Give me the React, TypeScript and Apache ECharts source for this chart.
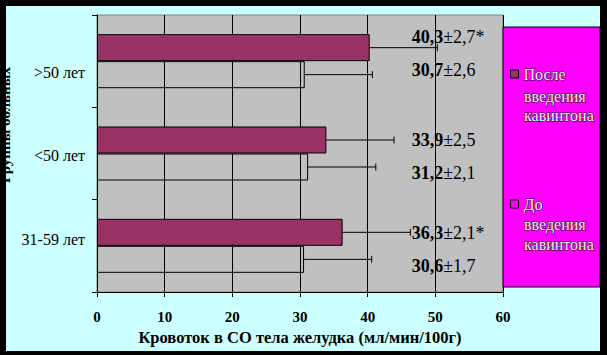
import React, { useEffect, useRef } from "react";
import * as echarts from "echarts";

// categories bottom-to-top (ECharts category y axis starts at the bottom)
const categories = ["31-59 лет", "<50 лет", ">50 лет"];
const seriesNames = ["После введения кавинтона", "До введения кавинтона"];
const afterMean = [36.3, 33.9, 40.3];
const afterSd = [2.1, 2.5, 2.7];
const afterMark = ["*", "", "*"];
const beforeMean = [30.6, 31.2, 30.7];
const beforeSd = [1.7, 2.1, 2.6];
const beforeMark = ["", "", ""];
const afterErrorBar = [10, 10, 10];
const beforeErrorBar = [10, 10, 10];
const xMin = 0;
const xMax = 60;
const xStep = 10;
const xAxisTitle = "Кровоток в СО тела желудка (мл/мин/100г)";
const yAxisTitle = "Группы больных";

const FONT = '"Liberation Serif", "Times New Roman", serif';
const CAT_GAP = 0.415;
const LABEL_AT = 46.5;
// small vertical nudges of the value labels (px), layout only
const afterLabelNudge = [1, 0.5, -11];
const beforeLabelNudge = [7, 5.5, -4.5];
const catLabelNudge = [-6, 1.5, 11];

const fmt = (v: number) => v.toFixed(1).replace(".", ",");

function makeErrorSeries(
  name: string,
  means: number[],
  errs: number[],
  sds: number[],
  marks: string[],
  side: number,
  nudge: number[]
) {
  return {
    type: "custom",
    name: name + " err",
    z: 5,
    silent: true,
    encode: { x: 0, y: 1 },
    data: means.map((m, i) => [m, i, errs[i]]),
    renderItem: (params: any, api: any) => {
      const v = api.value(0);
      const cat = api.value(1);
      const e = api.value(2);
      const band = api.size([0, 1])[1];
      const barW = (band * (1 - CAT_GAP)) / 2;
      const p0 = api.coord([v, cat]);
      const p1 = api.coord([v + e, cat]);
      const pl = api.coord([LABEL_AT, cat]);
      const y = p0[1] + (side * barW) / 2;
      const i = params.dataIndex;
      return {
        type: "group",
        children: [
          {
            type: "line",
            shape: { x1: p0[0], y1: y, x2: p1[0], y2: y },
            style: { stroke: "#000", lineWidth: 1 },
          },
          {
            type: "line",
            shape: { x1: p1[0], y1: y - 3.5, x2: p1[0], y2: y + 3.5 },
            style: { stroke: "#000", lineWidth: 1 },
          },
          {
            type: "text",
            x: pl[0],
            y: y + nudge[i],
            style: {
              text: `{b|${fmt(means[i])}}{n|±${fmt(sds[i])}${marks[i]}}`,
              align: "left",
              verticalAlign: "middle",
              rich: {
                b: { fontFamily: FONT, fontSize: 18, fontWeight: "bold", fill: "#000" },
                n: { fontFamily: FONT, fontSize: 18, fontWeight: "normal", fill: "#000" },
              },
            },
          },
        ],
      };
    },
  };
}

export default function App() {
  const ref = useRef<HTMLDivElement>(null);
  useEffect(() => {
    if (!ref.current) return;
    const chart = echarts.init(ref.current, null, { renderer: "svg" });
    const legendLine = (text: string, y: number) => ({
      type: "text",
      z: 150,
      x: 518,
      y,
      style: {
        text,
        fontFamily: FONT,
        fontSize: 16,
        fill: "#f4f4f4",
        stroke: "#111",
        lineWidth: 1,
        verticalAlign: "middle",
      },
    });
    const catRich: any = {};
    catLabelNudge.forEach((n, i) => {
      catRich["c" + i] = {
        fontFamily: FONT,
        fontSize: 16,
        color: "#000",
        padding: n >= 0 ? [n * 2, 0, 0, 0] : [0, 0, -n * 2, 0],
      };
    });
    const option: any = {
      animation: false,
      grid: {
        left: 91,
        top: 9,
        right: 97,
        bottom: 59,
        show: true,
        backgroundColor: "#c0c0c0",
        borderColor: "#808080",
        borderWidth: 1,
      },
      legend: {
        orient: "vertical",
        left: 504,
        top: 59.5,
        z: 200,
        itemGap: 113,
        itemWidth: 8,
        itemHeight: 8,
        padding: 0,
        icon: "rect",
        data: [
          { name: seriesNames[0], itemStyle: { color: "#993366", borderColor: "#000", borderWidth: 1 } },
          { name: seriesNames[1], itemStyle: { color: "rgba(0,0,0,0)", borderColor: "#000", borderWidth: 1 } },
        ],
        formatter: (n: string) => `{t|${n.split(" ")[0]}}`,
        textStyle: {
          fontFamily: FONT,
          fontSize: 16,
          color: "#f4f4f4",
          textBorderColor: "#111",
          textBorderWidth: 1,
          rich: {
            t: {
              fontFamily: FONT,
              fontSize: 16,
              color: "#f4f4f4",
              textBorderColor: "#111",
              textBorderWidth: 1,
            },
          },
        },
      },
      xAxis: {
        type: "value",
        min: xMin,
        max: xMax,
        interval: xStep,
        name: xAxisTitle,
        nameLocation: "middle",
        nameGap: 35,
        nameTextStyle: { fontFamily: FONT, fontSize: 16.5, fontWeight: "bold", color: "#000" },
        axisLine: { show: true, lineStyle: { color: "#000", width: 1 } },
        axisTick: { show: true, length: 5, lineStyle: { color: "#000" } },
        axisLabel: { margin: 17, fontFamily: FONT, fontSize: 15, fontWeight: "bold", color: "#000" },
        splitLine: { show: true, lineStyle: { color: "#000", width: 1 } },
      },
      yAxis: {
        type: "category",
        data: categories,
        axisLine: { show: true, lineStyle: { color: "#000", width: 1 } },
        axisTick: { show: true, length: 5, lineStyle: { color: "#000" } },
        axisLabel: {
          margin: 12,
          fontFamily: FONT,
          fontSize: 16,
          color: "#000",
          formatter: (v: string, i: number) => `{c${i}|${v}}`,
          rich: catRich,
        },
        splitLine: { show: false },
      },
      graphic: [
        {
          type: "rect",
          z: 100,
          shape: { x: 497, y: 21, width: 97, height: 260 },
          style: { fill: "#ff00ff", stroke: "#000", lineWidth: 1 },
        },
        legendLine("введения", 90),
        legendLine("кавинтона", 109.5),
        legendLine("введения", 218),
        legendLine("кавинтона", 238),
        {
          type: "text",
          z: 100,
          x: -1,
          y: 119,
          rotation: Math.PI / 2,
          style: {
            text: yAxisTitle,
            fontFamily: FONT,
            fontSize: 15,
            fontWeight: "bold",
            fill: "#000",
            align: "center",
            verticalAlign: "middle",
          },
        },
      ],
      series: [
        {
          type: "bar",
          name: seriesNames[0],
          data: afterMean,
          barGap: "0%",
          barCategoryGap: CAT_GAP * 100 + "%",
          itemStyle: { color: "#993366", borderColor: "#000", borderWidth: 1 },
        },
        {
          type: "bar",
          name: seriesNames[1],
          data: beforeMean,
          barGap: "0%",
          barCategoryGap: CAT_GAP * 100 + "%",
          itemStyle: { color: "rgba(0,0,0,0)", borderColor: "#000", borderWidth: 1 },
        },
        makeErrorSeries(seriesNames[0], afterMean, afterErrorBar, afterSd, afterMark, -1, afterLabelNudge),
        makeErrorSeries(seriesNames[1], beforeMean, beforeErrorBar, beforeSd, beforeMark, 1, beforeLabelNudge),
      ],
    };
    chart.setOption(option);
    return () => chart.dispose();
  }, []);

  return (
    <div style={{ position: "fixed", left: 0, top: 0, width: 607, height: 355, background: "#000" }}>
      <div style={{ position: "absolute", left: 6, top: 6, width: 594, height: 345, background: "#ccffff" }}>
        <div ref={ref} style={{ width: 594, height: 345 }} />
      </div>
    </div>
  );
}
